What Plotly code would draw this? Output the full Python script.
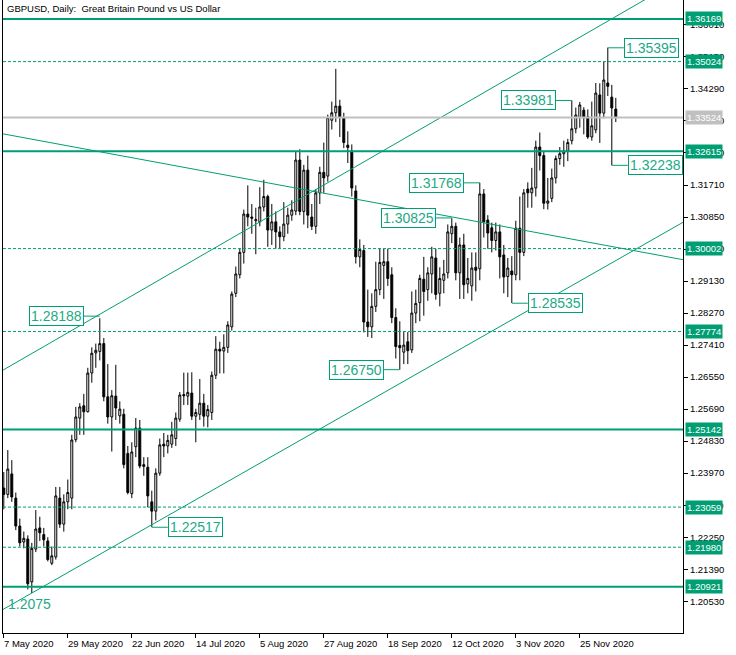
import plotly.graph_objects as go
import pandas as pd

# ---------------- data ----------------
dates = pd.bdate_range("2020-05-07", "2020-12-08")

open_ = [
    # May
    1.2357, 1.2340, 1.2395, 1.2330, 1.2255, 1.2212, 1.2220, 1.2105, 1.2193, 1.2250,
    1.2232, 1.2215, 1.2155, 1.2172, 1.2330, 1.2260, 1.2320,
    # Jun
    1.2330, 1.2487, 1.2545, 1.2578, 1.2562, 1.2666, 1.2720, 1.2724, 1.2745, 1.2602,
    1.2548, 1.2604, 1.2551, 1.2555, 1.2450, 1.2342, 1.2468, 1.2518, 1.2415, 1.2413,
    1.2320, 1.2295,
    # Jul
    1.2397, 1.2475, 1.2470, 1.2475, 1.2490, 1.2542, 1.2608, 1.2604, 1.2612, 1.2550,
    1.2555, 1.2585, 1.2550, 1.2560, 1.2660, 1.2730, 1.2725, 1.2735, 1.2790, 1.2880,
    1.2930, 1.2990, 1.3093,
    # Aug
    1.3085, 1.3075, 1.3072, 1.3112, 1.3140, 1.3050, 1.3072, 1.3045, 1.3032, 1.3066,
    1.3090, 1.3101, 1.3238, 1.3100, 1.3211, 1.3085, 1.3060, 1.3150, 1.3205, 1.3195,
    1.3345,
    # Sep
    1.3365, 1.3383, 1.3352, 1.3278, 1.3262, 1.3155, 1.2978, 1.2995, 1.2803, 1.2790,
    1.2845, 1.2890, 1.2955, 1.2965, 1.2930, 1.2815, 1.2740, 1.2722, 1.2750, 1.2728,
    1.2827, 1.2855,
    # Oct
    1.2918, 1.2890, 1.2932, 1.2975, 1.2880, 1.2915, 1.2935, 1.3040, 1.3060, 1.2935,
    1.3010, 1.2905, 1.2900, 1.2950, 1.2946, 1.3147, 1.3077, 1.3056, 1.3022, 1.3045,
    1.2983, 1.2925,
    # Nov
    1.2940, 1.2930, 1.3055, 1.2990, 1.3160, 1.3150, 1.3163, 1.3273, 1.3250, 1.3122,
    1.3135, 1.3190, 1.3242, 1.3255, 1.3262, 1.3290, 1.3322, 1.3353, 1.3372, 1.3354,
    1.3300,
    # Dec
    1.3319, 1.3413, 1.3364, 1.3445, 1.3407, 1.3375,
]
high = [
    1.2400, 1.2459, 1.2432, 1.2345, 1.2275, 1.2240, 1.2230, 1.2210, 1.2298, 1.2280,
    1.2250, 1.2225, 1.2200, 1.2360, 1.2360, 1.2340, 1.2380,
    1.2500, 1.2575, 1.2585, 1.2610, 1.2680, 1.2735, 1.2745, 1.2813, 1.2760, 1.2690,
    1.2620, 1.2688, 1.2590, 1.2570, 1.2470, 1.2480, 1.2545, 1.2540, 1.2440, 1.2440,
    1.2350, 1.2410,
    1.2490, 1.2505, 1.2500, 1.2535, 1.2560, 1.2615, 1.2667, 1.2667, 1.2668, 1.2570,
    1.2650, 1.2610, 1.2580, 1.2670, 1.2765, 1.2750, 1.2770, 1.2805, 1.2885, 1.2952,
    1.3000, 1.3105, 1.3170,
    1.3120, 1.3110, 1.3165, 1.3185, 1.3145, 1.3120, 1.3100, 1.3060, 1.3125, 1.3110,
    1.3130, 1.3260, 1.3267, 1.3225, 1.3250, 1.3120, 1.3160, 1.3220, 1.3285, 1.3360,
    1.3395,
    1.3483, 1.3400, 1.3365, 1.3315, 1.3280, 1.3170, 1.3025, 1.3010, 1.2890, 1.2880,
    1.2965, 1.3000, 1.3000, 1.3000, 1.2950, 1.2840, 1.2805, 1.2776, 1.2776, 1.2885,
    1.2890, 1.2930,
    1.2978, 1.2950, 1.3005, 1.3000, 1.2950, 1.2970, 1.3065, 1.3082, 1.3070, 1.3030,
    1.3040, 1.2975, 1.2990, 1.2990, 1.3177, 1.3160, 1.3090, 1.3070, 1.3070, 1.3065,
    1.3010, 1.2975,
    1.2980, 1.3075, 1.3140, 1.3160, 1.3178, 1.3217, 1.3290, 1.3312, 1.3262, 1.3190,
    1.3215, 1.3250, 1.3273, 1.3290, 1.3295, 1.3398, 1.3379, 1.3394, 1.3380, 1.3374,
    1.3395,
    1.3445, 1.3444, 1.3502, 1.3540, 1.3440, 1.3405,
]
low = [
    1.2300, 1.2330, 1.2320, 1.2244, 1.2200, 1.2195, 1.2085, 1.2075, 1.2185, 1.2215,
    1.2200, 1.2160, 1.2150, 1.2165, 1.2250, 1.2240, 1.2300,
    1.2300, 1.2480, 1.2500, 1.2500, 1.2560, 1.2640, 1.2680, 1.2700, 1.2590, 1.2530,
    1.2455, 1.2540, 1.2530, 1.2410, 1.2340, 1.2330, 1.2440, 1.2410, 1.2390, 1.2305,
    1.2252, 1.2270,
    1.2390, 1.2440, 1.2450, 1.2465, 1.2470, 1.2535, 1.2580, 1.2580, 1.2540, 1.2480,
    1.2540, 1.2522, 1.2520, 1.2540, 1.2650, 1.2665, 1.2665, 1.2720, 1.2780, 1.2870,
    1.2920, 1.2960, 1.3060,
    1.3040, 1.2985, 1.3060, 1.3100, 1.3005, 1.3010, 1.3000, 1.3000, 1.3020, 1.3040,
    1.3075, 1.3090, 1.3090, 1.3065, 1.3055, 1.3050, 1.3040, 1.3120, 1.3150, 1.3180,
    1.3320,
    1.3340, 1.3300, 1.3270, 1.3230, 1.3140, 1.2960, 1.2950, 1.2775, 1.2763, 1.2760,
    1.2830, 1.2875, 1.2865, 1.2900, 1.2800, 1.2705, 1.2675, 1.2690, 1.2690, 1.2720,
    1.2800, 1.2805,
    1.2820, 1.2860, 1.2880, 1.2863, 1.2845, 1.2880, 1.2920, 1.3015, 1.2915, 1.2865,
    1.2865, 1.2880, 1.2860, 1.2885, 1.2915, 1.3030, 1.3000, 1.2990, 1.2995, 1.2920,
    1.2880, 1.2870,
    1.2854, 1.2915, 1.2915, 1.2980, 1.3110, 1.3110, 1.3140, 1.3210, 1.3106, 1.3105,
    1.3125, 1.3175, 1.3225, 1.3220, 1.3235, 1.3280, 1.3310, 1.3325, 1.3307, 1.3295,
    1.3290,
    1.3310, 1.3284, 1.3350, 1.3410, 1.3224, 1.3340,
]
close = [
    1.2340, 1.2408, 1.2333, 1.2255, 1.2210, 1.2222, 1.2100, 1.2195, 1.2247, 1.2237,
    1.2218, 1.2165, 1.2175, 1.2336, 1.2260, 1.2320, 1.2345,
    1.2486, 1.2548, 1.2575, 1.2562, 1.2666, 1.2719, 1.2727, 1.2745, 1.2602, 1.2548,
    1.2605, 1.2572, 1.2569, 1.2420, 1.2345, 1.2454, 1.2518, 1.2416, 1.2420, 1.2336,
    1.2295, 1.2397,
    1.2473, 1.2470, 1.2485, 1.2500, 1.2545, 1.2607, 1.2605, 1.2614, 1.2550, 1.2560,
    1.2585, 1.2550, 1.2568, 1.2660, 1.2730, 1.2725, 1.2735, 1.2795, 1.2878, 1.2932,
    1.2990, 1.3093, 1.3085,
    1.3082, 1.3078, 1.3112, 1.3140, 1.3050, 1.3072, 1.3045, 1.3032, 1.3066, 1.3090,
    1.3104, 1.3238, 1.3100, 1.3211, 1.3090, 1.3060, 1.3150, 1.3205, 1.3190, 1.3352,
    1.3365,
    1.3383, 1.3352, 1.3285, 1.3272, 1.3163, 1.2978, 1.2998, 1.2803, 1.2790, 1.2845,
    1.2890, 1.2963, 1.2965, 1.2920, 1.2815, 1.2737, 1.2734, 1.2741, 1.2726, 1.2827,
    1.2853, 1.2920,
    1.2885, 1.2935, 1.2978, 1.2877, 1.2920, 1.2932, 1.3045, 1.3060, 1.2935, 1.3010,
    1.2903, 1.2920, 1.2948, 1.2942, 1.3147, 1.3072, 1.3042, 1.3022, 1.3045, 1.2978,
    1.2924, 1.2948,
    1.2930, 1.3055, 1.2990, 1.3150, 1.3150, 1.3163, 1.3273, 1.3250, 1.3122, 1.3128,
    1.3190, 1.3242, 1.3255, 1.3262, 1.3285, 1.3322, 1.3359, 1.3386, 1.3351, 1.3300,
    1.3330,
    1.3418, 1.3364, 1.3453, 1.3436, 1.3378, 1.3352,
]

# horizontal levels (price, style)
level_prices = [1.36169, 1.35024, 1.33524, 1.32615, 1.30002, 1.27774, 1.25142, 1.23059, 1.21980, 1.20921]
level_styles = ["solid", "dash", "bid", "solid", "dash", "dash", "solid", "dash", "dash", "solid"]

# trend lines: two anchor points each (bar index, price)
trend_lines = [
    ((0, 1.2675), (160, 1.3667)),     # upper channel
    ((7, 1.2075), (170, 1.3072)),     # lower channel
    ((0, 1.3308), (170, 1.2970)),     # descending line
]

# price labels on the chart: (date, price, side)
label_dates = ["2020-06-10", "2020-06-29", "2020-09-23", "2020-10-12", "2020-10-21",
               "2020-11-02", "2020-11-23", "2020-12-04", "2020-12-07"]
label_prices = [1.28188, 1.22517, 1.26750, 1.30825, 1.31768, 1.28535, 1.33981, 1.35395, 1.32238]
label_sides = ["left", "right", "left", "left", "left", "right", "left", "right", "right"]
low_label_date, low_label_price, low_label_text = "2020-05-18", 1.2075, "1.2075"

# axis ticks
x_tick_dates = ["2020-05-07", "2020-05-29", "2020-06-22", "2020-07-14", "2020-08-05",
                "2020-08-27", "2020-09-18", "2020-10-12", "2020-11-03", "2020-11-25"]
x_tick_text = ["7 May 2020", "29 May 2020", "22 Jun 2020", "14 Jul 2020", "5 Aug 2020",
               "27 Aug 2020", "18 Sep 2020", "12 Oct 2020", "3 Nov 2020", "25 Nov 2020"]
y_tick_vals = [1.20530, 1.21390, 1.22250, 1.23110, 1.23970, 1.24830, 1.25690, 1.26550,
               1.27410, 1.28270, 1.29130, 1.29990, 1.30850, 1.31710, 1.32570, 1.33430,
               1.34290, 1.35150, 1.36010]

# ---------------- figure ----------------
GREEN = "#009E73"
TXT = "#1DAA86"
GREY = "#C0C0C0"
FONT = "Liberation Sans"
SMALL = 9.5

date_index = {d.strftime("%Y-%m-%d"): i for i, d in enumerate(dates)}
idx = list(range(len(dates)))

fig = go.Figure()
fig.add_trace(go.Candlestick(
    x=idx, open=open_, high=high, low=low, close=close,
    increasing=dict(line=dict(color="black", width=1), fillcolor="white"),
    decreasing=dict(line=dict(color="black", width=1), fillcolor="black"),
    whiskerwidth=0, showlegend=False, hoverinfo="skip",
))

# trend lines extended across the plot
for (x0, p0), (x1, p1) in trend_lines:
    slope = (p1 - p0) / (x1 - x0)
    xa, xb = -5, 180
    fig.add_trace(go.Scatter(
        x=[xa, xb], y=[p0 + slope * (xa - x0), p0 + slope * (xb - x0)],
        mode="lines", line=dict(color=GREEN, width=1), showlegend=False, hoverinfo="skip",
    ))

# connectors for labels
cx, cy = [], []
for d, p, s in zip(label_dates, label_prices, label_sides):
    i = date_index[d]
    off = 4 if s == "right" else -4
    cx += [i, i + off, None]
    cy += [p, p, None]
fig.add_trace(go.Scatter(x=cx, y=cy, mode="lines", line=dict(color=GREEN, width=1),
                         showlegend=False, hoverinfo="skip"))

shapes = []
annotations = []
for p, st in zip(level_prices, level_styles):
    if st == "solid":
        ln = dict(color=GREEN, width=2)
        bg = GREEN
    elif st == "dash":
        ln = dict(color=GREEN, width=1, dash="3px,2px")
        bg = GREEN
    else:
        ln = dict(color=GREY, width=2)
        bg = GREY
    shapes.append(dict(type="line", xref="paper", x0=0, x1=1, yref="y", y0=p, y1=p,
                       line=ln, layer="above"))
    annotations.append(dict(xref="paper", x=1, xanchor="left", xshift=2, yref="y", y=p,
                            yanchor="middle", text=f"{p:.5f}", showarrow=False,
                            font=dict(family=FONT, size=SMALL, color="white"),
                            bgcolor=bg, borderpad=1))

for d, p, s in zip(label_dates, label_prices, label_sides):
    i = date_index[d]
    annotations.append(dict(
        x=i + (4 if s == "right" else -4), y=p, xref="x", yref="y",
        xanchor="left" if s == "right" else "right", yanchor="middle",
        text=f"{p:.5f}", showarrow=False,
        font=dict(family=FONT, size=14, color=TXT),
        bgcolor="white", bordercolor=GREEN, borderwidth=1, borderpad=1,
    ))

annotations.append(dict(
    x=date_index[low_label_date], y=low_label_price, xref="x", yref="y",
    xanchor="center", yanchor="top", xshift=-2, yshift=-1,
    text=low_label_text, showarrow=False, font=dict(family=FONT, size=14, color=TXT),
))

for d, t in zip(x_tick_dates, x_tick_text):
    annotations.append(dict(
        x=date_index[d], y=0, xref="x", yref="paper", xanchor="left", yanchor="top",
        yshift=-3, xshift=-2, text=t, showarrow=False,
        font=dict(family=FONT, size=SMALL, color="black"),
    ))

annotations.append(dict(
    x=0, y=1, xref="paper", yref="paper", xanchor="left", yanchor="top",
    xshift=2, yshift=-1,
    text="GBPUSD, Daily:\u00a0\u00a0Great Britain Pound vs US Dollar", showarrow=False,
    font=dict(family=FONT, size=SMALL, color="black"),
))

fig.update_layout(
    width=736, height=655,
    margin=dict(l=3, r=53, t=0, b=22),
    paper_bgcolor="white", plot_bgcolor="white",
    showlegend=False,
    shapes=shapes, annotations=annotations,
    xaxis=dict(
        range=[-0.2, 169.8], rangeslider=dict(visible=False),
        showgrid=False, zeroline=False, showline=True, linecolor="black", linewidth=1,
        mirror=True, ticks="outside", ticklen=4, tickcolor="black",
        tickvals=[date_index[d] for d in x_tick_dates], showticklabels=False,
    ),
    yaxis=dict(
        side="right", range=[1.19677, 1.36679],
        showgrid=False, zeroline=False, showline=True, linecolor="black", linewidth=1,
        mirror=True, ticks="outside", ticklen=4, tickcolor="black",
        tickvals=y_tick_vals, ticktext=[f"{v:.5f}" for v in y_tick_vals],
        tickfont=dict(family=FONT, size=SMALL, color="black"),
    ),
)

fig.write_html(
    "out.html",
    config={"displayModeBar": False},
    post_script="document.body.style.margin='0';document.body.style.overflow='hidden';",
)
